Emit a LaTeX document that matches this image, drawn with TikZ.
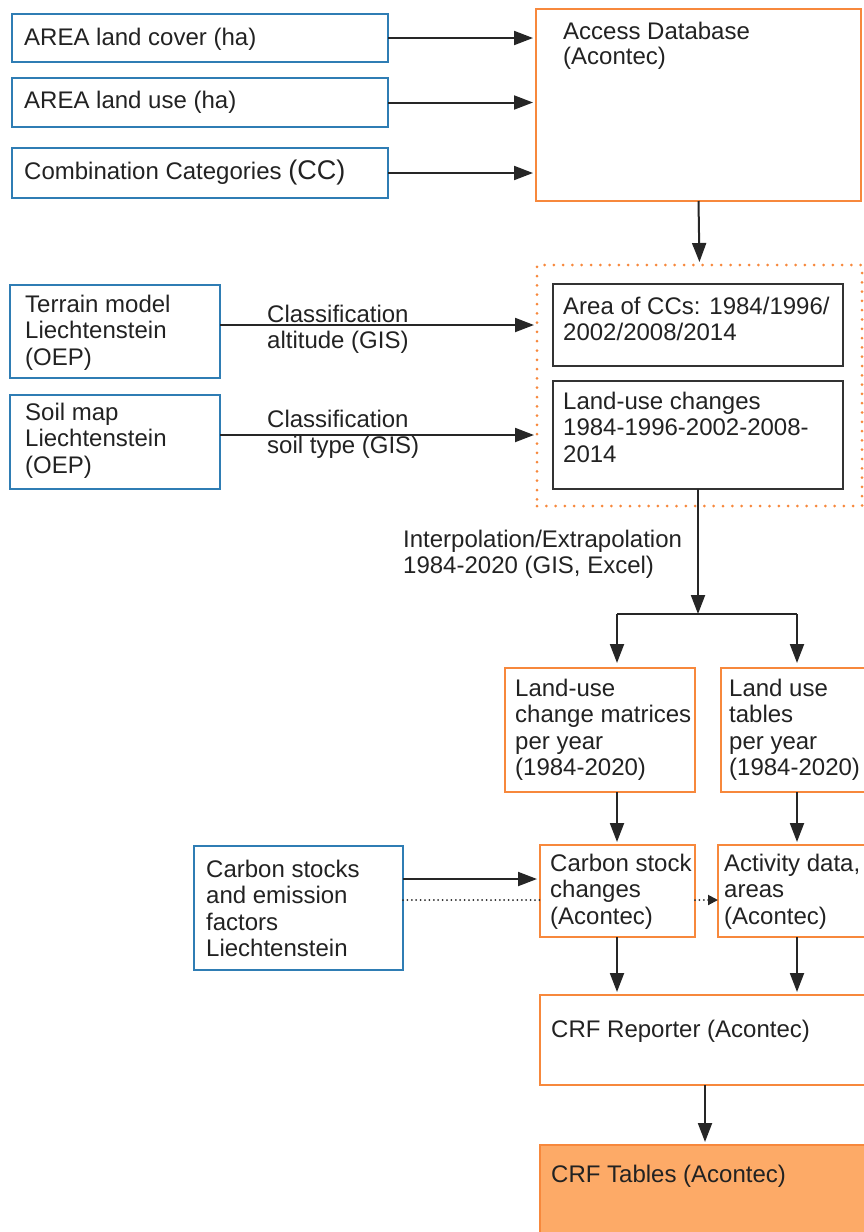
\documentclass[tikz,border=0pt]{standalone}
\usepackage{fontspec}
\setmainfont{Liberation Sans}
\usetikzlibrary{arrows.meta,calc}
\definecolor{bblue}{HTML}{2F7DB4}
\definecolor{borange}{HTML}{F7883C}
\definecolor{forange}{HTML}{FDAA67}
\definecolor{tgray}{HTML}{222222}
\newcommand\fs{\fontsize{24}{26.5}\selectfont}
\newcommand\tstrut{\rule{0pt}{20pt}}
\newcommand\mkbox[6]{\node[#1, minimum width={#5pt-#3pt}, minimum height={#6pt-#4pt}] (#2) at (#3,#4) {};}
\newcommand\mktxt[4]{\node[txt] (#1) at (#2,{#3-20}) {\tstrut#4};}
\tikzset{
  boxbase/.style={draw, line width=2.5pt, inner sep=0pt, outer sep=0pt, anchor=north west},
  bluebox/.style={boxbase, draw=bblue},
  orbox/.style={boxbase, draw=borange},
  orfill/.style={boxbase, draw=borange, fill=forange},
  blkbox/.style={boxbase, draw=black!80},
  dotbox/.style={boxbase, draw=borange, line width=3pt, line cap=round, dash pattern=on 0pt off 9.3pt},
  txt/.style={inner sep=0pt, anchor=north west, align=left, font=\fs, text=tgray},
  plainline/.style={draw=black!85, line width=2pt},
  conn/.style={plainline, shorten >=3pt, -{Triangle[length=19pt,width=14pt]}},
  dotline/.style={draw=black!85, line width=2pt, line cap=round, dash pattern=on 0pt off 4.4pt},
  dotconn/.style={dotline, shorten >=0pt, -{Triangle[length=10pt,width=10pt]}},
}
\begin{document}
\begin{tikzpicture}[x=1pt,y=-1pt]
\useasboundingbox (0,0) rectangle (864,1232);
\clip (0,0) rectangle (864,1232);
% top inputs
\mkbox{bluebox}{b1}{12}{14}{388}{62}
\mktxt{b1t}{24}{45}{AREA land cover (ha)}
\mkbox{bluebox}{b2}{12}{78}{388}{127}
\mktxt{b2t}{24}{108}{AREA land use (ha)}
\mkbox{bluebox}{b3}{12}{148}{388}{198}
\mktxt{b3t}{24}{179}{Combination Categories {\fontsize{27}{30}\selectfont(CC)}}
\mkbox{orbox}{acc}{536}{9}{861}{201}
\mktxt{acct}{563}{39}{Access Database\\[-1.5pt](Acontec)}
% dotted group
\mkbox{dotbox}{grp}{537}{265}{862}{506}
\mkbox{blkbox}{area}{553}{284}{843}{366}
\mktxt{areat}{563}{314}{Area of CCs: 1984/1996/\\2002/2008/2014}
\mkbox{blkbox}{luc}{553}{381}{843}{489}
\mktxt{luct}{563}{409}{Land-use changes\\1984-1996-2002-2008-\\2014}
% GIS inputs
\mkbox{bluebox}{terr}{10}{285}{220}{378}
\mktxt{terrt}{25}{312}{Terrain model\\Liechtenstein\\(OEP)}
\mkbox{bluebox}{soil}{10}{395}{220}{489}
\mktxt{soilt}{25}{420}{Soil map\\Liechtenstein\\(OEP)}
\mktxt{lab1}{267}{322}{Classification\\altitude (GIS)}
\mktxt{lab2}{267}{427}{Classification\\soil type (GIS)}
\mktxt{interp}{403}{547}{Interpolation/Extrapolation\\1984-2020 (GIS, Excel)}
% yearly
\mkbox{orbox}{lucm}{505}{668}{695}{792}
\mktxt{lucmt}{515}{696}{Land-use\\change matrices\\per year\\(1984-2020)}
\mkbox{orbox}{lut}{721}{668}{880}{792}
\mktxt{lutt}{729}{696}{Land use\\tables\\per year\\(1984-2020)}
\mkbox{orbox}{csc}{540}{845}{695}{937}
\mktxt{csct}{550}{871}{Carbon stock\\changes\\(Acontec)}
\mkbox{orbox}{act}{718}{845}{880}{937}
\mktxt{actt}{724}{871}{Activity data,\\areas\\(Acontec)}
\mkbox{bluebox}{cs}{194}{846}{403}{970}
\mktxt{cst}{206}{877}{Carbon stocks\\and emission\\factors\\Liechtenstein}
\mkbox{orbox}{crfr}{540}{995}{870}{1085}
\mktxt{crfrt}{551}{1037}{CRF Reporter (Acontec)}
\mkbox{orfill}{crft}{540}{1145}{870}{1250}
\mktxt{crftt}{551}{1182}{CRF Tables (Acontec)}
% connectors
\draw[conn] (b1.east) -- (b1.east -| acc.west);
\draw[conn] (b2.east) -- (b2.east -| acc.west);
\draw[conn] (b3.east) -- (b3.east -| acc.west);
\draw[conn] (acc.south) -- (grp.north);
\draw[conn] (terr.east |- area.west) -- (area.west -| grp.west);
\draw[conn] (soil.east |- luc.west) -- (luc.west -| grp.west);
\coordinate (jc) at (698,614);
\coordinate (jl) at (617,614);
\coordinate (jr) at (797,614);
\draw[conn, shorten >=0pt] (luc.south) -- (jc);
\draw[plainline] (jl) -- (jr);
\draw[conn, shorten >=5pt] (jl) -- (jl |- lucm.north);
\draw[conn, shorten >=5pt] (jr) -- (jr |- lut.north);
\draw[conn] (jl |- lucm.south) -- (jl |- csc.north);
\draw[conn] (jr |- lut.south) -- (jr |- act.north);
\draw[conn] (jl |- csc.south) -- (jl |- crfr.north);
\draw[conn] (jr |- act.south) -- (jr |- crfr.north);
\draw[conn] (crfr.south) -- (crft.north);
\coordinate (c1) at ([yshift=29pt]cs.east);
\coordinate (c2) at ([yshift=8pt]cs.east);
\draw[conn] (c1) -- (c1 -| csc.west);
\draw[dotline] (c2) -- (c2 -| csc.west);
\draw[dotconn] (c2 -| csc.east) -- (c2 -| act.west);
\end{tikzpicture}
\end{document}
